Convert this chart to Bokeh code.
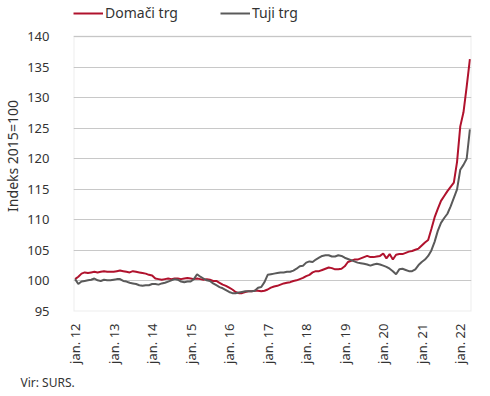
import math
from bokeh.plotting import figure
from bokeh.models import (ColumnDataSource, FixedTicker, Legend, LegendItem, Title, Range1d,
                          BoxAnnotation)
from bokeh.embed import file_html
from bokeh.resources import INLINE

# ---- data (monthly, Jan 2012 - Apr 2022), index 2015 = 100 ----
years = [12, 13, 14, 15, 16, 17, 18, 19, 20, 21, 22]
tick_labels = ["jan. %d" % y for y in years]

domaci = [
    # 2012
    100.3, 100.7, 101.2, 101.4, 101.3, 101.4, 101.5, 101.4, 101.5, 101.6, 101.5, 101.5,
    # 2013
    101.5, 101.6, 101.7, 101.6, 101.5, 101.4, 101.6, 101.5, 101.4, 101.3, 101.2, 101.0,
    # 2014
    100.9, 100.4, 100.3, 100.2, 100.3, 100.4, 100.3, 100.4, 100.4, 100.3, 100.4, 100.5,
    # 2015
    100.4, 100.3, 100.4, 100.3, 100.2, 100.3, 100.2, 100.0, 100.0, 99.7, 99.4, 99.2,
    # 2016
    98.9, 98.6, 98.2, 98.0, 98.0, 98.2, 98.3, 98.3, 98.4, 98.4, 98.3, 98.4,
    # 2017
    98.6, 98.9, 99.1, 99.2, 99.4, 99.6, 99.7, 99.8, 100.0, 100.1, 100.3, 100.5,
    # 2018
    100.8, 101.0, 101.4, 101.6, 101.6, 101.8, 102.0, 102.2, 102.1, 101.9, 101.9, 102.0,
    # 2019
    102.4, 103.1, 103.3, 103.5, 103.5, 103.7, 103.9, 104.1, 103.9, 103.9, 104.0, 104.1,
    # 2020
    104.5, 103.7, 104.4, 103.5, 104.3, 104.4, 104.4, 104.6, 104.8, 104.9, 105.1, 105.3,
    # 2021
    105.8, 106.3, 106.7, 108.5, 110.4, 111.8, 113.1, 113.9, 114.7, 115.4, 116.1, 119.5,
    # 2022
    125.3, 127.6, 131.8, 136.3,
]

tuji = [
    # 2012
    100.3, 99.5, 99.9, 100.0, 100.1, 100.2, 100.4, 100.1, 100.0, 100.2, 100.1, 100.1,
    # 2013
    100.2, 100.3, 100.3, 100.0, 99.9, 99.7, 99.6, 99.5, 99.3, 99.2, 99.3, 99.3,
    # 2014
    99.5, 99.5, 99.4, 99.6, 99.7, 99.9, 100.1, 100.3, 100.2, 99.9, 99.8, 99.9,
    # 2015
    99.9, 100.3, 101.1, 100.7, 100.4, 100.1, 100.0, 99.6, 99.3, 99.0, 98.8, 98.5,
    # 2016
    98.2, 98.0, 98.0, 98.1, 98.2, 98.3, 98.3, 98.3, 98.4, 98.9, 99.0, 99.8,
    # 2017
    101.0, 101.1, 101.2, 101.3, 101.4, 101.4, 101.5, 101.5, 101.7, 102.0, 102.4, 102.5,
    # 2018
    103.0, 103.2, 103.1, 103.5, 103.8, 104.1, 104.2, 104.2, 104.0, 104.0, 104.2, 104.1,
    # 2019
    103.8, 103.6, 103.4, 103.2, 103.0, 102.9, 102.8, 102.7, 102.5, 102.7, 102.8, 102.7,
    # 2020
    102.5, 102.3, 102.0, 101.6, 101.1, 101.9, 102.0, 101.8, 101.6, 101.6, 101.9, 102.6,
    # 2021
    103.1, 103.5, 104.1, 105.0, 106.4, 108.2, 109.5, 110.3, 111.0, 112.2, 113.6, 115.0,
    # 2022
    118.2, 119.0, 120.0, 124.8,
]

y_min, y_max = 95, 140
y_ticks = [95, 100, 105, 110, 115, 120, 125, 130, 135, 140]

n = len(domaci)
src = ColumnDataSource(dict(m=list(range(n)), dom=domaci, tuj=tuji))

FONT = "Noto Sans"
TXT = "#333333"
RED = "#B0122D"
GRAY = "#5a5a5a"
BOX = "#c4c4c4"

# frame extends above 140 to hold the legend; the visible box is drawn at 95..140
p = figure(width=474, height=396, output_backend="svg", toolbar_location=None,
           x_range=Range1d(-0.5, n - 0.5), y_range=Range1d(y_min, 145.9),
           min_border_left=65, min_border_right=3, min_border_top=0, min_border_bottom=85)

r1 = p.line("m", "dom", source=src, line_color=RED, line_width=2)
r2 = p.line("m", "tuj", source=src, line_color=GRAY, line_width=2)

p.outline_line_color = None
p.add_layout(BoxAnnotation(bottom=y_min, top=y_max, fill_alpha=0,
                           line_color=BOX, line_width=2))
p.xgrid.grid_line_color = None
p.ygrid.grid_line_color = "#c8c8c8"
p.ygrid.grid_line_width = 1

xt = [12 * i for i in range(len(years))]
p.xaxis.ticker = FixedTicker(ticks=xt)
p.xaxis.major_label_overrides = {t: lab for t, lab in zip(xt, tick_labels)}
p.xaxis.major_label_orientation = math.pi / 2
p.yaxis.ticker = FixedTicker(ticks=y_ticks)
for ax in (p.xaxis, p.yaxis):
    ax.axis_line_color = None
    ax.major_tick_line_color = None
    ax.minor_tick_line_color = None
    ax.major_label_text_font = FONT
    ax.major_label_text_font_size = "13px"
    ax.major_label_text_color = TXT
p.xaxis.major_label_standoff = 6
p.yaxis.major_label_standoff = 18
p.yaxis.axis_label = "Indeks 2015=100"
p.yaxis.axis_label_text_font = FONT
p.yaxis.axis_label_text_font_size = "14px"
p.yaxis.axis_label_text_font_style = "normal"
p.yaxis.axis_label_text_color = TXT
p.yaxis.axis_label_standoff = 2

legend = Legend(items=[LegendItem(label="Domači trg", renderers=[r1]),
                       LegendItem(label="Tuji trg", renderers=[r2])],
                orientation="horizontal", location=(0, 289),
                label_text_font=FONT, label_text_font_size="14px", label_text_color=TXT,
                glyph_width=30, glyph_height=14, label_standoff=2, spacing=42,
                padding=4, margin=0, border_line_color=None, background_fill_alpha=0)
p.add_layout(legend, "center")

src_title = Title(text="Vir: SURS.", align="left", text_font=FONT, text_font_size="12px",
                  text_font_style="normal", text_color=TXT, offset=-53)
p.add_layout(src_title, "below")

open("out.html", "w").write(file_html(p, INLINE))
